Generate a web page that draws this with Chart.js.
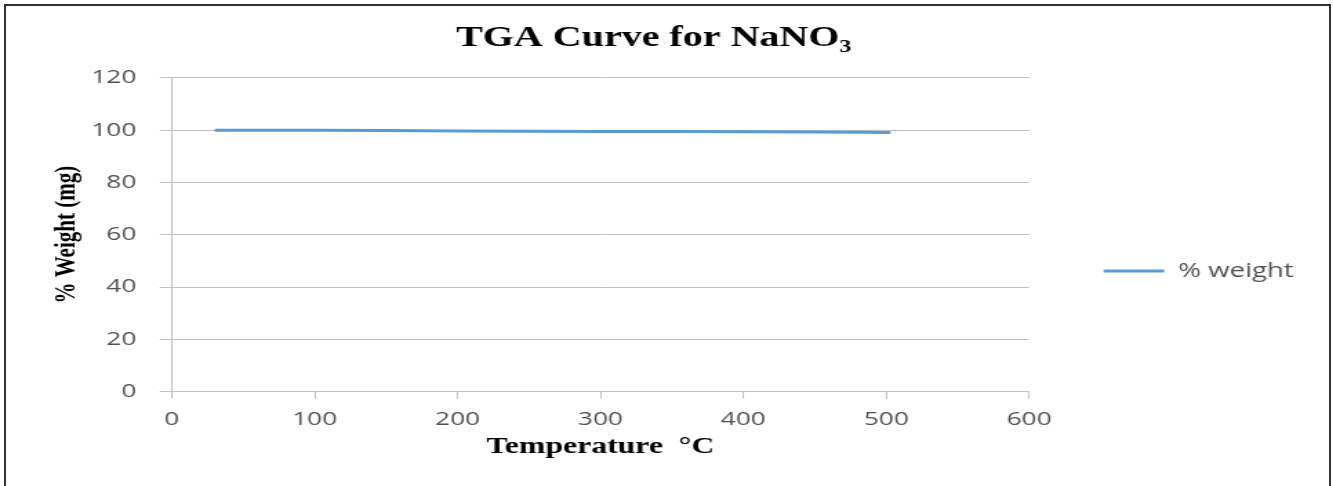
<!DOCTYPE html>
<html>
<head>
<meta charset="utf-8">
<script src="https://cdn.jsdelivr.net/npm/chart.js@4"></script>
<style>
  html, body { margin: 0; padding: 0; background: #fff; overflow: hidden; }
  #frame {
    position: absolute; left: 4px; top: 4px; width: 1323px; height: 500px;
    border: 2px solid #333; border-bottom: none; pointer-events: none;
  }
  /* the source picture is stretched sideways, so draw narrow and stretch */
  #wrap {
    position: absolute; left: 0; top: 0; width: 966px; height: 486px;
    transform: scaleX(1.38); transform-origin: 0 0;
  }
</style>
</head>
<body>
<div id="wrap"><canvas id="myChart"></canvas></div>
<div id="frame"></div>
<script>
const temperatures = [30, 100, 150, 200, 250, 300, 350, 400, 450, 503];
const weights = [99.95, 99.9, 99.8, 99.7, 99.6, 99.5, 99.45, 99.35, 99.25, 99.1];
const xTicks = [0, 100, 200, 300, 400, 500, 600];
const yTicks = [0, 20, 40, 60, 80, 100, 120];

const lineBlue = "#5b9bd5";
const tickGrey = "#505050";
const gridGrey = "#bfbfbf";

const ctx = document.getElementById("myChart").getContext("2d");

const myChart = new Chart(ctx, {
  type: "line",
  data: {
    datasets: [
      {
        label: "% weight",
        data: temperatures.map((t, i) => ({ x: t, y: weights[i] })),
        borderColor: lineBlue,
        backgroundColor: lineBlue,
        borderWidth: 3,
        pointRadius: 0,
        pointHoverRadius: 0,
        pointStyle: "line",
        pointBorderColor: lineBlue,
        pointBorderWidth: 3,
        tension: 0,
        fill: false,
      },
    ],
  },
  options: {
    responsive: true,
    maintainAspectRatio: false,
    animation: false,
    layout: { padding: { left: 0, right: 18.5, top: 0, bottom: 0 } },
    plugins: {
      title: {
        display: true,
        text: "TGA Curve for NaNO₃",
        color: "#000",
        font: { family: "Liberation Serif", size: 29, weight: "bold" },
        padding: { top: 21, bottom: 22 },
      },
      legend: {
        position: "right",
        title: {
          display: true,
          text: "",
          padding: { top: 56, bottom: 0 },
          font: { size: 1, lineHeight: 0 },
        },
        labels: {
          usePointStyle: true,
          pointStyleWidth: 44,
          padding: 54,
          color: tickGrey,
          font: { family: "Open Sans", size: 20 },
        },
      },
      tooltip: { enabled: false },
    },
    scales: {
      x: {
        type: "linear",
        min: 0,
        max: 600,
        afterBuildTicks: (scale) => {
          scale.ticks = xTicks.map((v) => ({ value: v }));
        },
        grid: {
          drawOnChartArea: false,
          drawTicks: true,
          tickLength: 7,
          color: gridGrey,
        },
        border: { display: true, color: gridGrey },
        ticks: {
          padding: 10,
          color: tickGrey,
          maxRotation: 0,
          font: { family: "Open Sans", size: 19 },
        },
        title: {
          display: true,
          text: "Temperature  °C",
          color: "#000",
          font: { family: "Liberation Serif", size: 23, weight: "bold" },
          padding: { top: -8, bottom: 25 },
        },
      },
      y: {
        min: 0,
        max: 120,
        afterBuildTicks: (scale) => {
          scale.ticks = yTicks.map((v) => ({ value: v }));
        },
        grid: {
          drawTicks: true,
          tickLength: 8.7,
          color: gridGrey,
        },
        border: { display: true, color: gridGrey },
        ticks: {
          padding: 17,
          color: tickGrey,
          font: { family: "Open Sans", size: 19 },
        },
        title: {
          display: true,
          text: "% Weight (mg)",
          color: "#000",
          font: { family: "Liberation Serif", size: 21, weight: "bold" },
          padding: { top: 36, bottom: -12 },
        },
      },
    },
  },
});
</script>
</body>
</html>
